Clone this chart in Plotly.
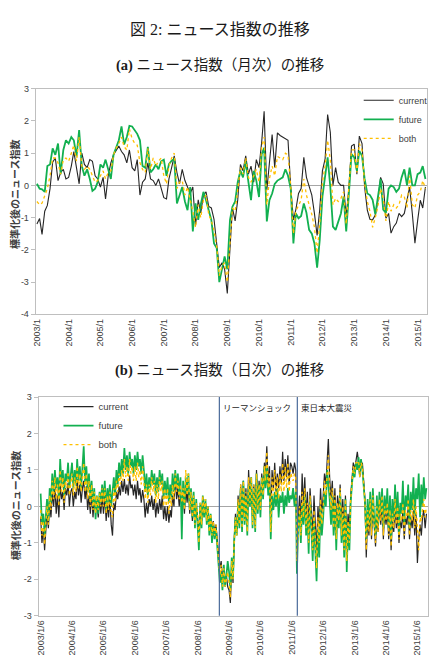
import pandas as pd
import plotly.graph_objects as go

# ---------------- (a) monthly data: 2003/1 .. 2015/4 ----------------
month_dates = pd.date_range("2003-01-01", periods=148, freq="MS")

current_m = [
    -1.2, -1.03, -1.52, -0.8, -0.62, -0.1, 0.72, 0.85, 0.15, 0.4, 0.5, 0.2,
    0.25, 0.6, 1.05, 0.5, 0.05, 1.0, 0.65, 0.55, 0.8, 0.75, 0.3, 0.2,
    -0.05, 0.25, -0.42, 0.3, 0.7, 0.95, 1.1, 1.22, 1.05, 0.95, 0.7, 1.1,
    0.55, 0.45, 0.8, -0.3, 0.1, 0.2, 0.7, 0.2, 0.15, 0.0, 0.2, -0.1,
    -0.38, -0.42, 0.2, 0.55, 0.92, 0.4, 0.05, 0.5, 0.15, -0.05, -0.25, -0.05,
    -1.25, -0.45, -0.85, -0.3, -0.2, -0.65, -0.7, -1.05, -1.8, -2.55, -2.4, -2.6,
    -3.35, -2.1, -0.7, -1.1, -0.45, 0.65, 0.45, 0.92, 0.35, 0.6, 0.1, 0.8,
    0.55, 1.35, 2.3, -0.15, 0.77, 1.58, 0.56, 1.63, 1.55, 1.5, 1.45, 1.4,
    -0.05, -1.07, -0.75, -0.25, -0.1, 0.87, 0.25, 0.0, -0.3, -0.87, -1.55, -0.75,
    0.45, 0.82, 2.2, 1.65, 0.0, 0.55, 0.1, 0.0, 0.0, -0.97, -0.05, 1.22,
    1.28, 0.35, 1.53, 1.3, -0.05, -0.77, -1.05, -1.07, -0.92, -0.47, 0.25, 0.05,
    -1.02, -0.87, -1.48, -1.28, -1.17, -0.87, -0.97, -0.87, -0.5, -0.05, -0.87, -1.79,
    -1.1, -0.46, -0.7, -0.05,
]
future_m = [
    0.05, -0.1, -0.12, -0.2, 0.6, 0.65, 1.15, 0.95, 1.3, 0.35, 1.1, 1.4,
    1.3, 1.5, 1.4, 0.9, 1.72, 0.6, 0.3, 0.5, 0.2, -0.17, -0.1, 0.1,
    0.65, 0.55, 0.8, 0.45, 0.2, 0.95, 1.15, 1.4, 1.83, 1.27, 1.5, 1.85,
    1.83, 1.72, 1.6, 1.4, 0.6, 0.55, 1.2, 0.4, 0.5, 0.65, 0.5, 0.75,
    0.8, 0.3, 0.66, 0.77, 0.82, -0.56, -0.3, -0.05, -0.5, -0.77, -0.05, -1.43,
    -0.56, -1.07, -0.6, -0.2, -0.46, -0.8, -1.07, -1.8, -1.94, -3.0, -2.6, -2.2,
    -2.6, -1.07, -0.66, -0.5, 0.1, 0.46, 0.25, 0.75, 0.1, -0.46, 0.45, 0.15,
    -0.36, 0.97, 1.17, -1.12, -0.46, -0.25, 0.05, 0.15, 0.2, 0.25, 0.5, 0.3,
    -0.1, -1.8, -0.87, -1.02, -0.95, -0.56, -0.85, -1.38, -1.5, -1.8, -2.55, -1.7,
    -0.35, 0.3, 0.87, -0.05, -1.28, -1.38, -1.15, -0.87, -0.35, -1.43, -0.25, 0.97,
    0.87, 0.45, 1.07, 0.92, 0.2, -0.25, -0.3, -0.45, -0.9, -0.35, 0.2, -0.75,
    -0.85, -0.1, 0.0, -0.05, -0.2, -0.1, 0.25, 0.5, 0.0, 0.55, 0.0, 0.0,
    0.35, 0.4, 0.6, 0.2,
]
both_m = [
    -0.5, -0.6, -0.55, -0.35, -0.1, 0.3, 0.85, 0.85, 0.7, 0.35, 0.8, 0.85,
    0.75, 1.0, 1.25, 0.75, 1.5, 0.6, 0.5, 0.6, 0.5, 0.3, 0.1, 0.15,
    0.3, 0.45, 0.2, 0.4, 0.45, 0.95, 1.15, 1.3, 1.5, 1.2, 1.1, 1.75,
    1.45, 1.3, 1.25, 0.7, 0.5, 0.4, 1.15, 0.5, 0.85, 0.6, 0.75, 0.85,
    0.3, 0.05, 0.6, 0.85, 1.0, -0.1, 0.1, 0.15, -0.3, -0.05, -0.45, -0.8,
    -1.3, -0.6, -1.0, -0.45, -0.3, -0.9, -1.1, -1.4, -1.9, -2.8, -2.5, -2.4,
    -3.0, -1.6, -0.7, -0.8, -0.2, 0.55, 0.35, 0.85, 0.25, 0.1, 0.3, 0.5,
    0.1, 1.2, 1.5, -0.6, 0.2, 0.6, 0.3, 0.9, 0.85, 0.8, 1.0, 0.95,
    0.0, -1.5, -0.8, -0.6, -0.45, 0.2, -0.3, -0.6, -0.9, -1.3, -2.1, -1.2,
    0.1, 0.6, 1.4, 0.8, -0.6, -0.4, -0.5, -0.4, -0.2, -1.2, -0.15, 1.1,
    1.1, 0.4, 1.3, 1.1, 0.05, -0.5, -0.8, -1.3, -1.0, -0.65, -0.1, -0.4,
    -1.1, -0.5, -0.8, -0.6, -0.7, -0.6, -0.3, -0.35, -0.7, 0.3, -0.6, -0.7,
    -0.3, -0.2, 0.15, -0.1,
]
years_a = list(range(2003, 2016))
tickvals_a = [f"{y}-01-01" for y in years_a]
ticktext_a = [f"{y}/1" for y in years_a]
ytick_a = [3, 2, 1, 0, -1, -2, -3, -4]

# ---------------- (b) half-monthly sampled daily index: 2003/1/6 .. 2015/4/21 ----------------
day_dates = [pd.Timestamp(2003 + h // 24, (h % 24) // 2 + 1, 6 if h % 2 == 0 else 21) for h in range(296)]

current_d = [
    -0.3, -1.0, -0.6, -1.2, -0.7, -0.2, -0.6, 0.1, -0.3, 0.4, 0.0, 0.55, -0.2, 0.3, -0.3, 0.6, 0.2, 0.4, -0.1, 0.5, 0.3, 0.65, 0.0, 0.4,
    0.5, 0.0, 0.4, 0.2, 0.75, 0.3, 0.6, 0.1, 0.5, 0.7, 0.2, 0.55, -0.1, 0.3, -0.2, 0.4, -0.3, 0.2, -0.1, 0.1, -0.3, 0.2, -0.2, 0.3,
    -0.2, 0.3, -0.4, 0.1, -0.3, 0.2, -0.5, -0.8, 0.1, -0.1, 0.4, 0.2, 0.55, 0.3, 0.7, 0.4, 0.75, 0.35, 0.6, 0.3, 0.85, 0.5, 0.6, 0.3,
    0.6, 0.2, 0.7, 0.3, 0.5, 0.1, 0.45, 0.2, -0.3, 0.1, -0.2, 0.2, 0.0, 0.3, -0.1, 0.2, -0.3, 0.1, -0.2, 0.2, -0.1, 0.3, -0.35, 0.0,
    -0.4, 0.0, -0.45, -0.1, -0.3, 0.3, 0.0, 0.9, 0.2, 0.5, 0.0, 0.4, -0.1, 0.3, -0.2, 0.5, 0.1, 0.6, -0.2, 0.3, -0.4, 0.1, -0.5, 0.0,
    -0.3, -0.8, 0.0, -0.4, 0.25, -0.2, 0.1, -0.3, -0.1, -0.5, -0.3, -0.6, -0.4, -0.7, -0.5, -0.9, -1.3, -1.7, -1.5, -2.0, -1.7, -2.1, -1.9, -2.2,
    -2.3, -2.65, -1.6, -2.1, -1.0, -0.2, -0.7, 0.3, -0.3, 0.6, -0.4, 0.7, -0.3, 0.5, -0.5, 1.0, 0.2, 0.8, -0.3, 0.6, -0.4, 1.0, 0.0, 0.7,
    0.1, 0.9, 0.4, 1.2, 0.9, 1.65, 0.6, 1.1, -0.5, 1.0, 0.5, 1.2, 0.4, 0.9, 0.5, 1.1, 0.6, 1.5, 0.7, 1.3, 0.8, 1.4, 0.6, 1.2,
    1.1, 0.9, 1.2, 1.0, -1.0, -0.2, 0.3, -0.5, 0.9, 0.0, 0.8, -0.3, 0.4, -0.6, 0.5, -0.1, -0.8, 0.3, -0.5, -1.2, 0.0, -0.6, 0.5, -0.2,
    0.3, 0.9, 0.6, 1.3, 1.85, 0.8, 0.2, 0.7, -0.3, 0.5, -0.6, 0.3, -0.2, 0.6, -0.5, 0.2, -0.8, 0.3, -1.1, -0.2, -0.6, 0.3, 0.8, 1.2,
    1.0, 1.3, 1.5, 1.2, 0.8, 1.1, 1.2, 0.7, 0.2, -1.4, -0.3, -0.8, 0.0, -0.9, 0.1, -0.5, -1.1, -0.2, -0.7, 0.1, -0.5, 0.2, -0.9, -0.1,
    -0.5, -0.1, -0.9, -0.3, -1.2, -0.4, -0.7, 0.0, -0.6, -0.2, -1.0, -0.4, -0.6, -0.1, -0.9, -0.3, -0.5, 0.0, -0.9, -0.3, -0.6, -0.1, -0.8, -0.2,
    -1.55, -0.9, -0.5, -0.8, -0.3, -0.1, -0.6, -0.2,
]
future_d = [
    0.35, -0.5, -0.2, -0.8, -0.3, 0.2, -0.4, 0.5, 0.1, 0.9, 0.4, 1.0, 0.5, 0.8, 0.2, 1.3, 0.6, 1.0, 0.3, 0.9, 0.7, 1.2, 0.5, 0.9,
    1.2, 0.5, 1.0, 0.6, 1.3, 0.7, 1.1, 0.5, 1.2, 1.65, 0.6, 1.1, 0.4, 0.9, 0.2, 0.7, 0.0, 0.5, -0.35, 0.3, -0.2, 0.4, 0.1, 0.6,
    0.2, 0.7, -0.1, 0.5, 0.1, 0.6, 0.0, 0.4, 0.8, 0.3, 1.0, 0.6, 1.2, 0.8, 1.3, 0.9, 1.6, 1.0, 1.4, 0.9, 1.5, 1.1, 1.3, 0.9,
    1.4, 1.0, 1.5, 1.1, 1.3, 0.9, 1.4, 1.0, 0.4, 0.9, 0.3, 0.8, 0.5, 1.0, 0.6, 0.9, 0.3, 0.8, 0.4, 1.0, 0.6, 0.9, 0.2, 0.7,
    0.3, 0.8, 0.1, 0.6, 0.2, 0.9, 0.4, 1.0, 0.5, 0.9, 0.3, 0.8, -0.9, 0.7, 0.0, 0.8, 0.4, 0.9, -0.1, 0.5, -0.3, 0.4, -0.6, 0.2,
    -0.4, -1.2, 0.1, -0.6, 0.3, -0.3, 0.2, -0.5, 0.0, -0.8, -0.2, -1.0, -0.5, -0.9, -0.6, -1.1, -1.6, -2.1, -1.8, -2.3, -1.6, -2.2, -1.9, -1.5,
    -1.8, -2.3, -1.4, -2.0, -1.0, -0.3, -0.8, 0.1, -0.6, 0.5, -0.7, 0.7, -0.5, 0.3, -0.8, 0.6, 0.0, 0.8, -0.6, 0.5, -0.7, 0.9, -0.2, 0.6,
    -0.3, 0.8, 0.2, 1.1, 0.5, 1.1, 0.3, 0.6, -0.9, 0.3, -0.1, 0.4, 0.0, 0.5, -0.3, 0.3, 0.1, 0.4, -0.2, 0.3, 0.0, 0.5, 0.1, 0.3,
    0.2, 0.5, 0.0, 0.4, -1.85, -0.6, -0.2, -1.0, 0.1, -0.5, 0.3, -0.8, -0.2, -1.3, 0.2, -0.7, -1.5, -0.4, -1.2, -2.05, -0.6, -1.4, 0.0, -0.8,
    -0.3, 0.4, 0.0, 1.0, 0.6, 0.2, -0.5, 0.3, -0.8, 0.1, -1.2, 0.0, -0.6, 0.4, -1.0, -0.2, -1.4, 0.2, -1.8, -0.5, -1.2, 0.1, 0.6, 1.0,
    0.8, 1.2, 1.0, 1.35, 0.9, 1.3, 1.0, 0.6, 0.1, -0.9, 0.2, -0.5, 0.4, -0.6, 0.5, -0.3, -0.8, 0.3, -0.5, 0.4, -0.2, 0.5, -0.6, 0.3,
    -0.2, 0.5, -0.6, 0.3, -0.9, 0.2, -0.4, 0.6, -0.3, 0.4, -0.7, 0.1, -0.2, 0.7, -0.5, 0.3, 0.0, 0.6, -0.6, 0.4, -0.1, 0.8, -0.3, 0.5,
    0.2, 0.9, -0.3, 0.6, 0.0, 0.8, 0.2, 0.5,
]
both_d = [
    -0.1, -0.8, -0.4, -1.05, -0.5, 0.0, -0.5, 0.3, -0.1, 0.7, 0.2, 0.8, 0.2, 0.6, 0.0, 1.0, 0.4, 0.8, 0.1, 0.7, 0.5, 0.95, 0.3, 0.7,
    0.9, 0.3, 0.8, 0.4, 1.1, 0.5, 0.9, 0.4, 0.9, 1.2, 0.4, 0.9, 0.2, 0.7, 0.0, 0.6, -0.1, 0.4, -0.2, 0.3, -0.1, 0.35, 0.0, 0.5,
    0.0, 0.5, -0.2, 0.3, -0.1, 0.4, -0.2, -0.3, 0.5, 0.1, 0.7, 0.4, 0.9, 0.6, 1.0, 0.7, 1.3, 0.8, 1.1, 0.7, 1.3, 0.9, 1.1, 0.7,
    1.1, 0.7, 1.2, 0.8, 1.0, 0.6, 1.1, 0.7, 0.2, 0.6, 0.1, 0.6, 0.3, 0.8, 0.4, 0.7, 0.1, 0.6, 0.2, 0.8, 0.4, 0.7, 0.0, 0.5,
    0.0, 0.5, -0.2, 0.3, 0.0, 0.6, 0.2, 0.9, 0.4, 0.7, 0.2, 0.6, 0.1, 0.5, -0.1, 1.0, 0.3, 0.9, -0.1, 0.4, -0.3, 0.3, -0.5, 0.1,
    -0.2, -1.0, 0.1, -0.5, 0.3, -0.2, 0.2, -0.4, 0.0, -0.7, -0.2, -0.8, -0.4, -0.8, -0.5, -1.0, -1.5, -1.9, -1.6, -2.2, -1.7, -2.2, -2.0, -1.8,
    -2.1, -2.5, -1.5, -2.0, -1.0, -0.3, -0.8, 0.2, -0.5, 0.6, -0.6, 0.7, -0.4, 0.4, -0.7, 0.8, 0.1, 0.8, -0.5, 0.6, -0.6, 0.9, -0.1, 0.6,
    -0.1, 0.8, 0.3, 1.1, 0.7, 1.5, 0.5, 0.9, -0.7, 0.8, 0.3, 1.0, 0.2, 0.8, 0.2, 0.9, 0.4, 1.2, 0.4, 1.1, 0.5, 1.2, 0.4, 1.0,
    0.8, 0.7, 0.9, 0.8, -1.5, -0.5, 0.0, -0.8, 0.4, -0.3, 0.5, -0.6, 0.1, -1.0, 0.3, -0.4, -1.2, -0.1, -0.9, -1.7, -0.3, -1.0, 0.2, -0.5,
    0.0, 0.7, 0.3, 1.1, 1.4, 0.5, -0.1, 0.5, -0.6, 0.3, -0.9, 0.1, -0.4, 0.5, -0.8, 0.0, -1.2, 0.2, -1.5, -0.4, -1.0, 0.2, 0.7, 1.1,
    0.9, 1.2, 1.2, 1.25, 0.8, 1.2, 1.1, 0.6, 0.1, -1.2, -0.1, -0.7, 0.2, -0.8, 0.3, -0.5, -1.0, 0.0, -0.7, 0.2, -0.4, 0.3, -0.8, 0.0,
    -0.4, 0.1, -0.8, -0.1, -1.1, -0.2, -0.6, 0.2, -0.5, 0.0, -0.9, -0.2, -0.4, 0.1, -0.8, -0.1, -0.3, 0.2, -0.8, -0.1, -0.4, 0.2, -0.6, 0.0,
    -0.6, -1.2, -0.3, -0.4, -0.1, 0.2, -0.3, 0.0,
]
years_b = list(range(2003, 2016))
tickvals_b = [f"{y}-01-06" for y in years_b]
ticktext_b = [f"{y}/1/6" for y in years_b]
ytick_b = [3, 2, 1, 0, -1, -2, -3]

events = ["2008-09-15", "2011-03-11"]
event_labels = ["リーマンショック", "東日本大震災"]

series_names = ["current", "future", "both"]
colors = {"current": "#262626", "future": "#12b050", "both": "#ffc000"}

W, H = 435, 670
fig = go.Figure()

# (a)
widths_a = {"current": 1.1, "future": 1.8, "both": 1.3}
for name, vals in zip(series_names, [current_m, future_m, both_m]):
    fig.add_trace(go.Scatter(
        x=month_dates, y=vals, mode="lines", name=name, xaxis="x", yaxis="y", legend="legend",
        line=dict(color=colors[name], width=widths_a[name], dash="dot" if name == "both" else "solid"),
    ))
# (b)
widths_b = {"current": 1.2, "future": 1.7, "both": 1.4}
for name, vals in zip(series_names, [current_d, future_d, both_d]):
    fig.add_trace(go.Scatter(
        x=day_dates, y=vals, mode="lines", name=name, xaxis="x2", yaxis="y2", legend="legend2",
        line=dict(color=colors[name], width=widths_b[name], dash="dot" if name == "both" else "solid"),
    ))

tickfont = dict(family="Liberation Sans, Arial", size=9, color="#404040")
axis_common = dict(showgrid=False, showline=True, mirror=True, linecolor="#bfbfbf", linewidth=1)


def py(px):
    return 1 - px / H


fig.update_layout(
    width=W, height=H, margin=dict(l=0, r=0, t=0, b=0),
    paper_bgcolor="white", plot_bgcolor="white",
    xaxis=dict(domain=[32 / W, 427 / W], anchor="y", type="date", range=["2002-12-18", "2015-04-20"],
               tickvals=tickvals_a, ticktext=ticktext_a, tickangle=-90, tickfont=tickfont,
               ticks="", zeroline=False, **axis_common),
    yaxis=dict(domain=[py(314), py(85)], anchor="x", range=[-4, 3],
               tickvals=ytick_a, ticktext=[str(v) for v in ytick_a], tickfont=tickfont,
               ticks="outside", ticklen=4, tickcolor="#bfbfbf",
               zeroline=True, zerolinecolor="#a6a6a6", zerolinewidth=1, **axis_common),
    xaxis2=dict(domain=[35 / W, 428 / W], anchor="y2", type="date", range=["2002-12-14", "2015-05-10"],
                tickvals=tickvals_b, ticktext=ticktext_b, tickangle=-90, tickfont=tickfont,
                ticks="", zeroline=False, **axis_common),
    yaxis2=dict(domain=[py(620), py(398)], anchor="x2", range=[-3, 3],
                tickvals=ytick_b, ticktext=[str(v) for v in ytick_b], tickfont=tickfont,
                ticks="outside", ticklen=4, tickcolor="#bfbfbf",
                zeroline=True, zerolinecolor="#a6a6a6", zerolinewidth=1, **axis_common),
    legend=dict(x=358 / W, y=py(82), xanchor="left", yanchor="top", bgcolor="rgba(0,0,0,0)",
                font=dict(family="Liberation Sans, Arial", size=9, color="#404040"),
                tracegroupgap=0, itemwidth=30),
    legend2=dict(x=55 / W, y=py(393), xanchor="left", yanchor="top", bgcolor="rgba(0,0,0,0)",
                 font=dict(family="Liberation Sans, Arial", size=9.5, color="#404040"),
                 tracegroupgap=0, itemwidth=30),
    showlegend=True,
)

title_font = dict(family="Liberation Serif, Noto Sans CJK JP", color="#1a1a1a")
annotations = [
    dict(text="図 2: ニュース指数の推移", x=0.5, y=py(25), xref="paper", yref="paper",
         showarrow=False, font=dict(size=16, **title_font), xanchor="center", yanchor="middle"),
    dict(text="<b>(a)</b> ニュース指数（月次）の推移", x=0.5, y=py(61), xref="paper", yref="paper",
         showarrow=False, font=dict(size=14.5, **title_font), xanchor="center", yanchor="middle"),
    dict(text="<b>(b)</b> ニュース指数（日次）の推移", x=0.5, y=py(371), xref="paper", yref="paper",
         showarrow=False, font=dict(size=14.5, **title_font), xanchor="center", yanchor="middle"),
    dict(text="<b>標準化後のニュース指数</b>", x=10 / W, y=py(192), xref="paper", yref="paper",
         textangle=-90, showarrow=False, xanchor="center", yanchor="middle",
         font=dict(family="Noto Sans CJK JP", size=10, color="#404040")),
    dict(text="<b>標準化後のニュース指数</b>", x=12 / W, y=py(508), xref="paper", yref="paper",
         textangle=-90, showarrow=False, xanchor="center", yanchor="middle",
         font=dict(family="Noto Sans CJK JP", size=10, color="#404040")),
]
for d, lab in zip(events, event_labels):
    annotations.append(dict(text=lab, x=d, xref="x2", y=py(408), yref="paper", xanchor="left",
                            yanchor="middle", xshift=2, showarrow=False,
                            font=dict(family="Noto Sans CJK JP", size=8.5, color="#262626")))
fig.update_layout(annotations=annotations)

for d in events:
    fig.add_shape(type="line", x0=d, x1=d, xref="x2", y0=0, y1=1, yref="y2 domain",
                  line=dict(color="#4a6a9a", width=1.2))

fig.write_html("out.html")
